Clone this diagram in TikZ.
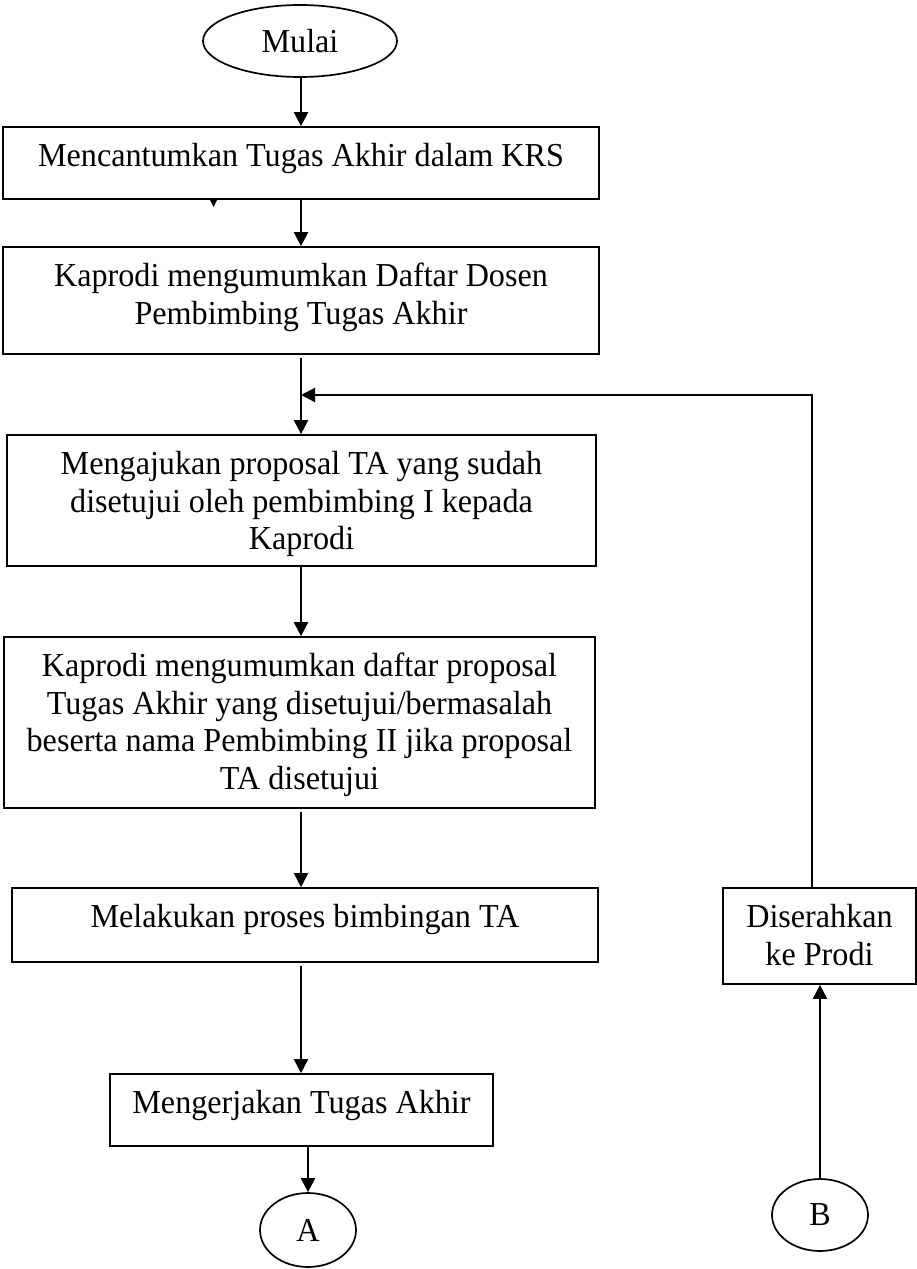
\documentclass[tikz,border=0pt]{standalone}
\usepackage{fontspec}
\setmainfont[FakeStretch=0.96]{Liberation Serif}
\usetikzlibrary{arrows.meta,shapes.geometric}
\tikzset{
  boxnode/.style={draw, line width=1.7pt, rectangle, inner sep=0pt},
  txt/.style={align=center, inner sep=0pt, anchor=north, font=\fontsize{33.5}{37.5}\selectfont},
  term/.style={draw, ellipse, line width=1.7pt, inner sep=0pt, font=\fontsize{33.5}{37.5}\selectfont},
  flow/.style={line width=2pt, -{Triangle[width=14pt,length=14pt]}},
}
\begin{document}
\begin{tikzpicture}[x=1pt,y=-1pt]
\useasboundingbox (0,0) rectangle (917,1269);
% terminal
\node[term, minimum width=194pt, minimum height=72pt] (m) at (300,41) {Mulai};
% boxes
\node[boxnode, minimum width=596pt, minimum height=72pt] (b1) at (301,163) {};
\node[txt] (t1) at ([yshift=-14pt]b1.north) {\strut Mencantumkan Tugas Akhir dalam KRS};
\node[boxnode, minimum width=596pt, minimum height=107pt] (b2) at (301,300.5) {};
\node[txt] (t2) at ([yshift=-14pt]b2.north) {\strut Kaprodi mengumumkan Daftar Dosen\\Pembimbing Tugas Akhir};
\node[boxnode, minimum width=589pt, minimum height=131pt] (b3) at (301.5,500.5) {};
\node[txt] (t3) at ([yshift=-14pt]b3.north) {\strut Mengajukan proposal TA yang sudah\\disetujui oleh pembimbing I kepada\\Kaprodi};
\node[boxnode, minimum width=591pt, minimum height=171pt] (b4) at (299.5,722.5) {};
\node[txt] (t4) at ([yshift=-14pt]b4.north) {\strut Kaprodi mengumumkan daftar proposal\\Tugas Akhir yang disetujui/bermasalah\\beserta nama Pembimbing II jika proposal\\TA disetujui};
\node[boxnode, minimum width=586pt, minimum height=74pt] (b5) at (305,925) {};
\node[txt] (t5) at ([yshift=-14pt]b5.north) {\strut Melakukan proses bimbingan TA};
\node[boxnode, minimum width=383pt, minimum height=72pt] (b6) at (301.5,1110) {};
\node[txt] (t6) at ([yshift=-14pt]b6.north) {\strut Mengerjakan Tugas Akhir};
\node[boxnode, minimum width=193pt, minimum height=96pt] (ds) at (819.5,936) {};
\node[txt] (t7) at ([yshift=-14pt]ds.north) {\strut Diserahkan\\ke Prodi};
% connectors
\node[term, minimum width=96pt, minimum height=74pt] (A) at (308,1230) {A};
\node[term, minimum width=96pt, minimum height=72pt] (B) at (820,1215) {B};
\coordinate (j) at (301,395);
\draw[flow] (m.south -| b1.south) -- (b1.north);
\draw[flow] (b1.south) -- (b2.north);
\draw[flow, shorten <=3pt] (b2.south) -- (b3.north -| b2.south);
\draw[flow] ([xshift=-7.5pt]ds.north) |- (j);
\draw[flow] (b3.south -| b2.south) -- (b4.north -| b2.south);
\draw[flow, shorten <=3pt] (b4.south -| b2.south) -- (b5.north -| b2.south);
\draw[flow, shorten <=3pt] (b5.south -| b2.south) -- (b6.north -| b2.south);
\draw[flow] (A.north |- b6.south) -- (A.north);
\draw[flow] (B.north) -- (B.north |- ds.south);
% small mark under first box
\fill (210,200) -- (217,200) -- (213.5,207) -- cycle;
\end{tikzpicture}
\end{document}
